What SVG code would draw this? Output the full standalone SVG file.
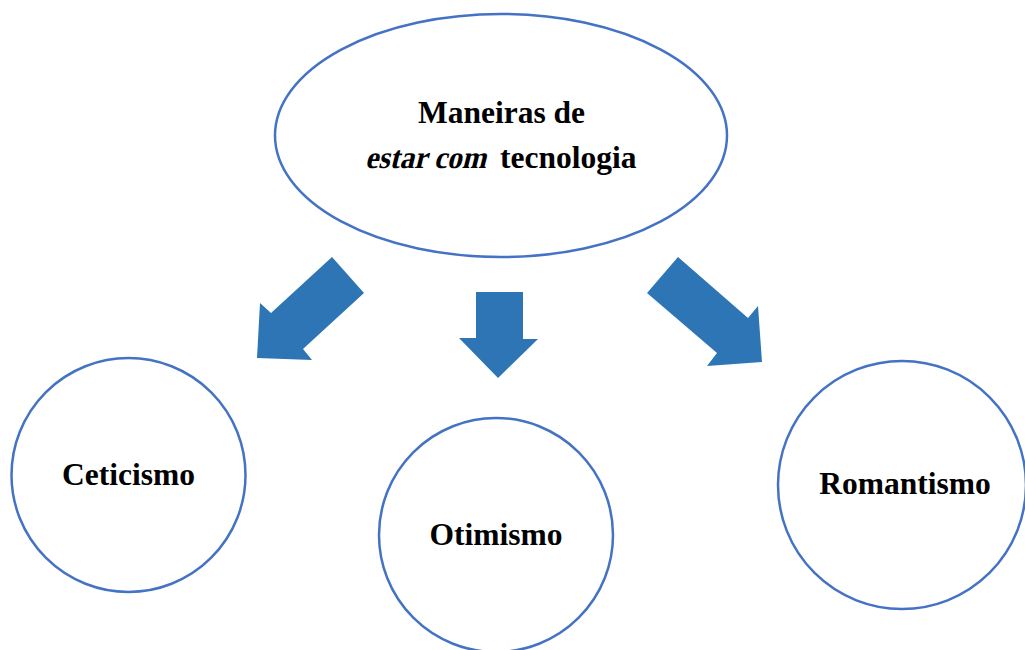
<svg xmlns="http://www.w3.org/2000/svg" width="1025" height="650" viewBox="0 0 1025 650">
  <style>
    .shape { fill: #ffffff; stroke: #4472C4; stroke-width: 2.5; }
    .label { font-family: "Liberation Serif", "Times New Roman", serif; font-size: 31.5px; font-weight: bold; fill: #000000; text-anchor: middle; }
    .start { text-anchor: start; }
    .arrow { fill: #2E75B6; stroke: none; }
  </style>
  <rect width="1025" height="650" fill="#ffffff"/>

  <g id="root">
    <ellipse class="shape" cx="501" cy="135.5" rx="226" ry="121.5"/>
    <text class="label" x="501.5" y="123">Maneiras de</text>
    <!-- slanted words drawn with a skew about the baseline -->
    <text class="label start" transform="translate(0,168) skewX(-14)" x="365" y="0" textLength="121" lengthAdjust="spacingAndGlyphs">estar com</text>
    <text class="label start" x="500" y="168">tecnologia</text>
  </g>

  <g id="connectors">
    <polygon class="arrow" points="332,257 364,293 303,349 312,360 257,358 260,303 271,313"/>
    <polygon class="arrow" points="476,292 523,292 523,339 538,339 498,378 459,338 476,338"/>
    <polygon class="arrow" points="678,257 647,293 717,353 707,366 762,362 758,306 748,318"/>
  </g>

  <g id="ceticismo">
    <circle class="shape" cx="128.5" cy="475" r="117"/>
    <text class="label" x="128.5" y="485">Ceticismo</text>
  </g>

  <g id="otimismo">
    <circle class="shape" cx="496" cy="535" r="117"/>
    <text class="label" x="496" y="545">Otimismo</text>
  </g>

  <g id="romantismo">
    <circle class="shape" cx="902" cy="485" r="124"/>
    <text class="label" x="905" y="494">Romantismo</text>
  </g>
</svg>
